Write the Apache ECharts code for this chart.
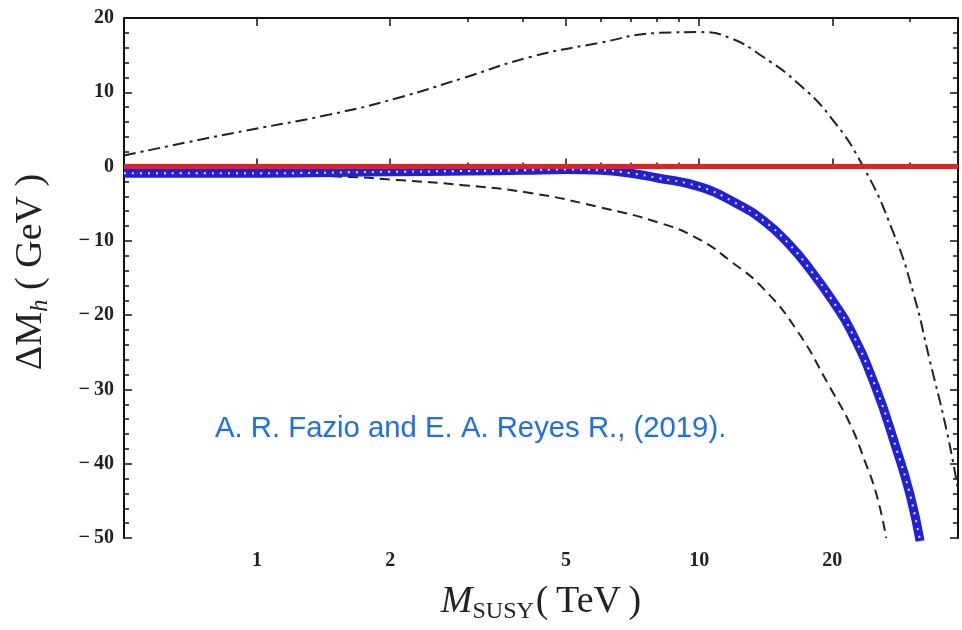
<!DOCTYPE html>
<html>
<head>
<meta charset="utf-8">
<script src="https://cdn.jsdelivr.net/npm/echarts@6/dist/echarts.min.js"></script>
<style>
  html, body { margin: 0; padding: 0; background: #fff; }
  #chart { width: 962px; height: 630px; }
</style>
</head>
<body>
<div id="chart"></div>
<script>
// x in TeV, y in GeV
const bandX = [0.5, 1, 2, 3, 4, 5, 6, 7, 8, 10, 12, 14, 16, 18, 20, 22, 25, 28, 30, 31.6];
const bandY = [-0.9, -0.9, -0.7, -0.6, -0.5, -0.4, -0.5, -0.9, -1.5, -2.7, -4.8, -7.3, -10.5, -14.2, -18.0, -22.0, -29.5, -38.2, -44.2, -50.4];

const dashX = [0.5, 1, 1.62, 2.07, 2.92, 4.15, 5.88, 8.16, 10, 11.76, 13.96, 16.7, 19.8, 22.0, 23.75, 25.2, 26.5];
const dashY = [-0.9, -1.1, -1.4, -1.8, -2.5, -3.55, -5.4, -7.6, -9.8, -12.7, -16.4, -22.2, -29.8, -34.8, -39.8, -44.2, -50];

const dotDashX = [0.5, 0.88, 1.46, 2.07, 2.92, 4.15, 5.88, 8.16, 10, 11.76, 13.96, 16.7, 19.8, 23.5, 27.5, 30.5, 33.3, 36.4, 38.5];
const dotDashY = [1.5, 4.5, 7.0, 9.2, 11.9, 14.75, 16.6, 18.0, 18.1, 17.3, 14.75, 11.25, 6.7, 0, -8.9, -17.0, -26.3, -35.9, -43.5];

const refX = [0.5, 38.5];
const refY = [0, 0];

const majorX = [1, 2, 5, 10, 20];
const minorX = [3, 4, 6, 7, 8, 9, 30];

const pairs = (xs, ys) => xs.map((x, i) => [x, ys[i]]);

const serif = '"Liberation Serif", "DejaVu Serif", serif';
const ink = '#222';
const labelStyle = { color: ink, fontFamily: serif, fontSize: 20, fontWeight: 'bold' };

const chart = echarts.init(document.getElementById('chart'));

const xBase = (pos, ticks, len, extra) => Object.assign({
  type: 'log',
  logBase: 10,
  position: pos,
  min: 0.5,
  max: 38.5,
  splitLine: { show: false },
  axisLine: { show: true, lineStyle: { color: '#111', width: 2 } },
  axisTick: { show: true, inside: true, length: len, customValues: ticks, lineStyle: { color: '#111', width: 1.5 } },
  axisLabel: { show: false }
}, extra || {});

const yBase = (pos, extra) => Object.assign({
  type: 'value',
  position: pos,
  min: -50,
  max: 20,
  interval: 10,
  splitLine: { show: false },
  axisLine: { show: true, lineStyle: { color: '#111', width: 2 } },
  axisTick: { show: true, inside: true, length: 8, lineStyle: { color: '#111', width: 1.5 } },
  minorTick: { show: true, splitNumber: 5, length: 5, lineStyle: { color: '#111', width: 1.5 } },
  axisLabel: { show: false }
}, extra || {});

const lineSeries = (name, xs, ys, lineStyle, z) => ({
  name,
  type: 'line',
  smooth: 0.5,
  showSymbol: false,
  data: pairs(xs, ys),
  lineStyle,
  z
});

chart.setOption({
  animation: false,
  backgroundColor: '#fff',
  grid: { left: 124, right: 4, top: 18, bottom: 92 },
  xAxis: [
    xBase('bottom', majorX, 8, {
      axisLabel: Object.assign({ show: true, margin: 13, customValues: majorX }, labelStyle),
      name: '{it|M}{sub|SUSY}{d|(\u2009TeV\u2009)}',
      nameLocation: 'middle',
      nameGap: 42,
      nameTextStyle: {
        rich: {
          it: { fontFamily: serif, fontStyle: 'italic', fontSize: 38, color: ink, lineHeight: 44 },
          sub: { fontFamily: serif, fontSize: 24, color: ink, verticalAlign: 'bottom', lineHeight: 32, padding: [0, 2, 0, 0] },
          d: { fontFamily: serif, fontSize: 38, color: ink, lineHeight: 44 }
        }
      }
    }),
    xBase('bottom', minorX, 4, { axisLine: { show: false } }),
    xBase('top', majorX, 8),
    xBase('top', minorX, 4, { axisLine: { show: false } })
  ],
  yAxis: [
    yBase('left', {
      axisLabel: Object.assign({
        show: true,
        margin: 10,
        formatter: v => (v < 0 ? '\u2212\u2009' + (-v) : String(v))
      }, labelStyle),
      name: '{d|\u0394M}{sub|h}{d| ( GeV )}',
      nameLocation: 'middle',
      nameGap: 71,
      nameRotate: 90,
      nameTextStyle: {
        padding: [0, 0, 0, 12],
        rich: {
          d: { fontFamily: serif, fontSize: 38, color: ink, lineHeight: 44 },
          sub: { fontFamily: serif, fontStyle: 'italic', fontSize: 25, color: ink, verticalAlign: 'bottom', lineHeight: 32 }
        }
      }
    }),
    yBase('right')
  ],
  graphic: [{
    type: 'text',
    left: 215,
    top: 414,
    style: {
      text: 'A. R. Fazio and E. A. Reyes R., (2019).',
      fill: '#1a6dff',
      font: '29.3px "Liberation Sans", Arial, sans-serif'
    }
  }],
  series: [
    lineSeries('dashed', dashX, dashY, { color: '#222', width: 2, type: [10, 6] }, 2),
    lineSeries('dot-dashed', dotDashX, dotDashY, { color: '#222', width: 2, type: [12, 5, 3, 5] }, 2),
    lineSeries('band', bandX, bandY, { color: '#1f1fe0', width: 9 }, 3),
    lineSeries('band centre', bandX, bandY, { color: '#eef0ff', width: 2, type: [2, 6] }, 4),
    {
      name: 'reference',
      type: 'line',
      showSymbol: false,
      data: pairs(refX, refY),
      lineStyle: { color: '#e8201e', width: 5 },
      z: 5
    }
  ]
});
</script>
</body>
</html>
